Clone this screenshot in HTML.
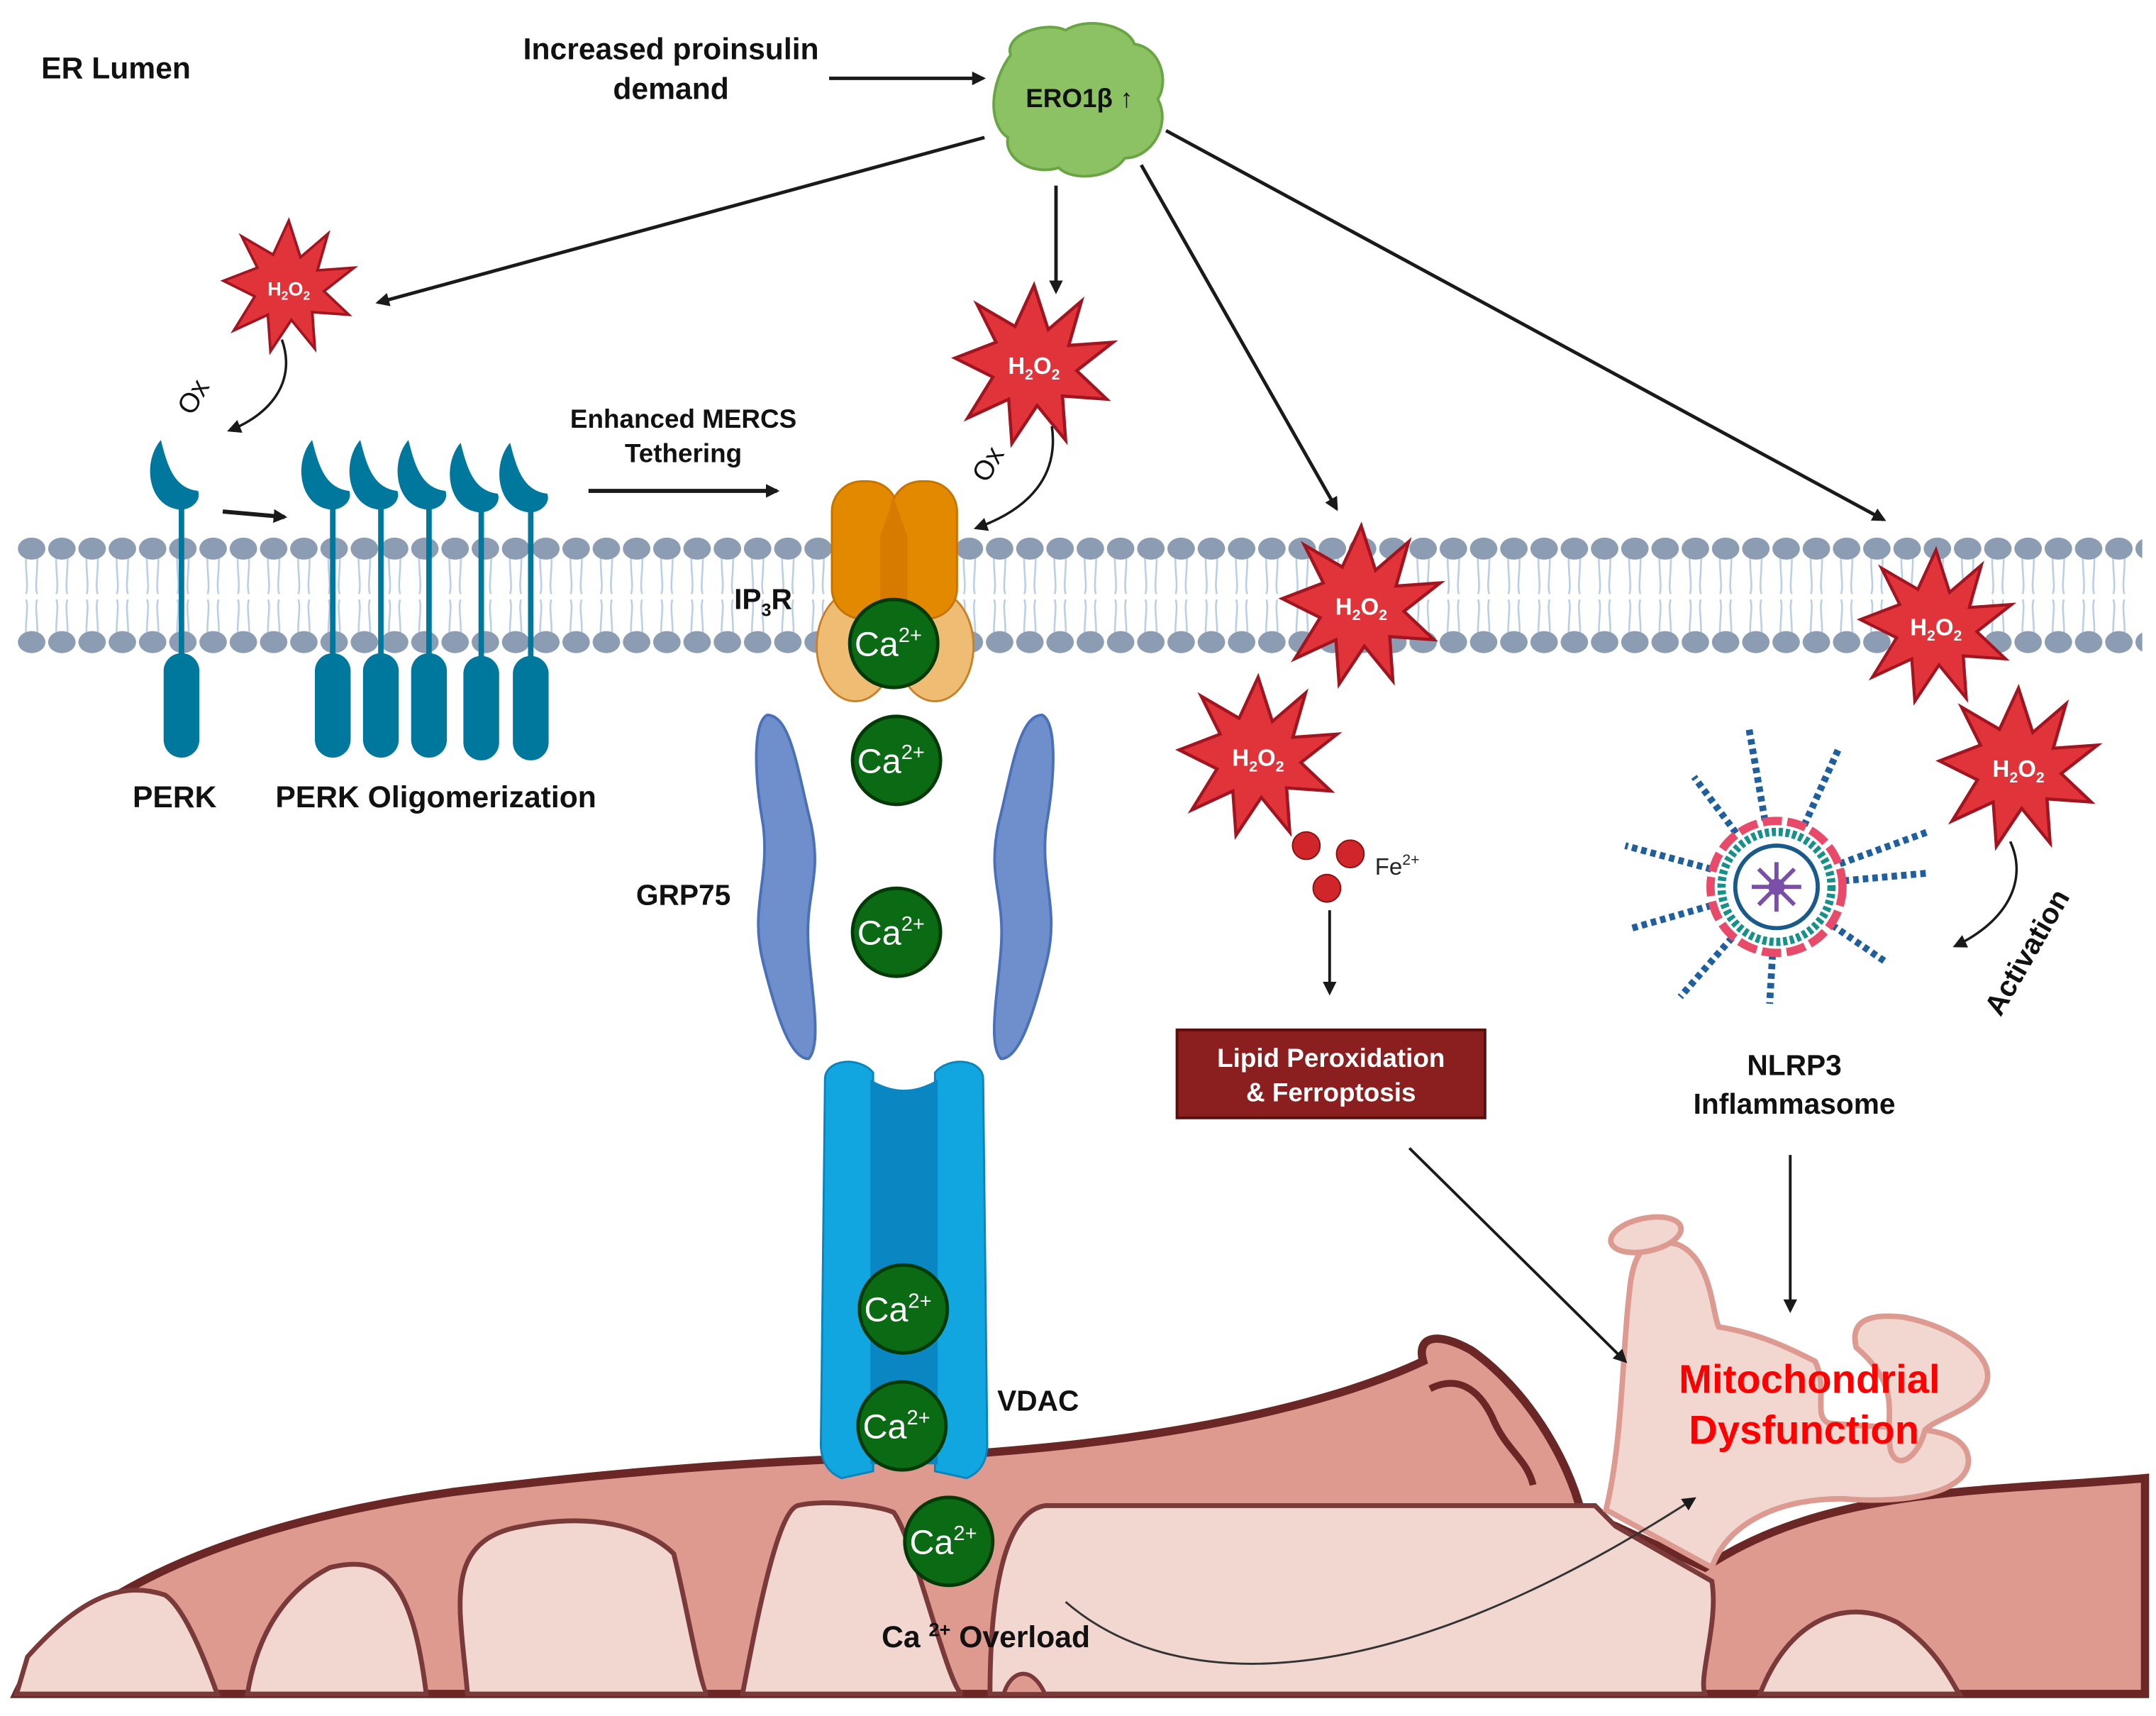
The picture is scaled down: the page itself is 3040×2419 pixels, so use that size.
<!DOCTYPE html>
<html><head><meta charset="utf-8"><style>
html,body{margin:0;padding:0;background:#fff;}
svg{display:block;}
text{font-family:"Liberation Sans",sans-serif;}
</style></head><body>
<svg width="3040" height="2419" viewBox="0 0 1568 1248" preserveAspectRatio="none" xmlns="http://www.w3.org/2000/svg">
<defs>
<marker id="ah" markerWidth="10" markerHeight="10" refX="8" refY="5" orient="auto" markerUnits="userSpaceOnUse"><path d="M0,0 L10,5 L0,10 Z" fill="#1a1a1a"/></marker>
<pattern id="heads" x="12" y="0" width="22" height="1248" patternUnits="userSpaceOnUse">
<path d="M7,400 C6,415 9,425 7,432 M15,400 C16,415 13,425 15,432 M7,466 C6,452 9,442 7,436 M15,466 C16,452 13,442 15,436" stroke="#b8cde6" stroke-width="1.3" fill="none"/>
<ellipse cx="11" cy="399" rx="10" ry="8" fill="#8c9db3"/>
<ellipse cx="11" cy="467" rx="10" ry="8" fill="#8c9db3"/>
</pattern>
<g id="star"><polygon points="0,-50 9,-22 30,-40 22,-12 50,-14 27,4 46,22 18,20 20,48 2,26 -14,50 -16,22 -42,34 -26,8 -50,-4 -24,-14 -36,-38 -12,-24" fill="#e0333a" stroke="#a01520" stroke-width="2"/></g>
<g id="perk" fill="#00789e"><path d="M-15,-25 C-28,-10 -25,20 -5,25 C5,28 15,20 12,12 C-5,10 -10,-5 -15,-25 Z"/><rect x="-2" y="20" width="4" height="120"/><rect x="-13" y="130" width="26" height="76" rx="13"/></g>
</defs>
<rect width="1568" height="1248" fill="#fff"/>

<!-- membrane -->
<rect x="12" y="388" width="1546" height="90" fill="url(#heads)"/>

<!-- mitochondrion -->
<path d="M12,1232 C40,1170 150,1110 330,1085 C450,1070 560,1062 650,1060 C800,1055 950,1030 1035,990 C1030,972 1045,968 1070,982 C1110,1010 1140,1060 1150,1100 L1175,1110 L1240,1140 C1330,1080 1450,1085 1560,1075 L1560,1232 Z" fill="#df9a8f" stroke="#6b2626" stroke-width="6"/>
<path d="M1040,1010 C1060,1000 1075,1010 1085,1030 C1095,1055 1110,1060 1115,1080" fill="none" stroke="#6b2626" stroke-width="5"/>
<path d="M12,1232 L20,1205 C60,1160 90,1150 120,1160 C135,1170 150,1210 158,1232 Z M180,1232 C185,1200 200,1160 240,1140 C280,1130 300,1150 310,1232 Z M340,1232 C335,1170 320,1120 380,1110 C430,1100 470,1110 490,1130 C500,1170 510,1232 515,1232 Z M540,1232 C550,1180 565,1100 580,1095 C600,1090 640,1095 650,1100 C665,1120 690,1230 700,1232 Z M720,1232 C720,1160 730,1100 760,1095 L1160,1095 L1175,1110 L1245,1150 C1250,1180 1235,1220 1240,1232 Z M1280,1232 C1300,1180 1340,1160 1380,1180 C1410,1200 1420,1225 1425,1232 Z" fill="#f2d6d0" stroke="#7a3a3a" stroke-width="3.5"/>
<path d="M730,1232 C735,1215 750,1210 760,1232 Z" fill="#df9a8f" stroke="#7a3a3a" stroke-width="3"/>
<!-- pale extension -->
<path d="M1168,1098 C1180,1050 1180,980 1185,940 C1188,905 1200,900 1220,905 C1245,915 1245,955 1250,965 C1280,970 1300,980 1320,990 C1330,1010 1318,1030 1330,1035 C1380,1040 1420,1035 1430,1055 C1440,1080 1400,1095 1340,1090 C1290,1090 1255,1110 1245,1140 Z" fill="#f2d6d0" stroke="#dc9a90" stroke-width="4"/>
<path d="M1350,980 C1345,960 1360,955 1385,958 C1420,965 1450,985 1445,1005 C1440,1025 1410,1030 1400,1040 C1395,1060 1380,1070 1375,1055 C1370,1030 1385,1010 1350,980 Z" fill="#f2d6d0" stroke="#dc9a90" stroke-width="4"/>
<ellipse cx="1197" cy="898" rx="26" ry="12" transform="rotate(-12 1197 898)" fill="#f2d6d0" stroke="#dc9a90" stroke-width="4"/>
<text x="1316" y="1013" font-size="29" font-weight="bold" fill="#ff0000" text-anchor="middle">Mitochondrial</text>
<text x="1312" y="1050" font-size="29" font-weight="bold" fill="#ff0000" text-anchor="middle">Dysfunction</text>

<!-- texts top -->
<text x="30" y="57" font-size="22" font-weight="bold" fill="#111">ER Lumen</text>
<text x="488" y="43" font-size="22" font-weight="bold" fill="#111" text-anchor="middle">Increased proinsulin</text>
<text x="488" y="72" font-size="22" font-weight="bold" fill="#111" text-anchor="middle">demand</text>
<line x1="603" y1="57" x2="715" y2="57" stroke="#1a1a1a" stroke-width="2.5" marker-end="url(#ah)"/>

<!-- ERO1 blob -->
<path d="M735,40 C730,25 760,15 775,22 C790,12 820,18 825,32 C845,35 850,60 842,72 C852,90 838,115 818,115 C808,130 780,132 770,122 C750,128 730,115 733,100 C718,90 720,60 735,40 Z" fill="#8cc263" stroke="#6aa545" stroke-width="2"/>
<text x="785" y="78" font-size="19" font-weight="bold" fill="#111" text-anchor="middle">ERO1β ↑</text>

<!-- arrows from ERO1 -->
<line x1="716" y1="100" x2="275" y2="220" stroke="#1a1a1a" stroke-width="2.5" marker-end="url(#ah)"/>
<line x1="768" y1="135" x2="768" y2="212" stroke="#1a1a1a" stroke-width="2.5" marker-end="url(#ah)"/>
<line x1="830" y1="120" x2="972" y2="370" stroke="#1a1a1a" stroke-width="2.5" marker-end="url(#ah)"/>
<line x1="848" y1="95" x2="1370" y2="378" stroke="#1a1a1a" stroke-width="2.5" marker-end="url(#ah)"/>

<!-- stars -->
<g transform="translate(210,208) scale(0.95)"><use href="#star"/></g>
<text x="210" y="215" font-size="14" font-weight="bold" fill="#fff" text-anchor="middle">H<tspan font-size="9" dy="3">2</tspan><tspan dy="-3">O</tspan><tspan font-size="9" dy="3">2</tspan></text>
<g transform="translate(752,265) scale(1.15)"><use href="#star"/></g>
<text x="752" y="272" font-size="17" font-weight="bold" fill="#fff" text-anchor="middle">H<tspan font-size="11" dy="4">2</tspan><tspan dy="-4">O</tspan><tspan font-size="11" dy="4">2</tspan></text>
<g transform="translate(990,440) scale(1.15)"><use href="#star"/></g>
<text x="990" y="447" font-size="17" font-weight="bold" fill="#fff" text-anchor="middle">H<tspan font-size="11" dy="4">2</tspan><tspan dy="-4">O</tspan><tspan font-size="11" dy="4">2</tspan></text>
<g transform="translate(915,550) scale(1.15)"><use href="#star"/></g>
<text x="915" y="557" font-size="17" font-weight="bold" fill="#fff" text-anchor="middle">H<tspan font-size="11" dy="4">2</tspan><tspan dy="-4">O</tspan><tspan font-size="11" dy="4">2</tspan></text>
<g transform="translate(1408,455) scale(1.1)"><use href="#star"/></g>
<text x="1408" y="462" font-size="17" font-weight="bold" fill="#fff" text-anchor="middle">H<tspan font-size="11" dy="4">2</tspan><tspan dy="-4">O</tspan><tspan font-size="11" dy="4">2</tspan></text>
<g transform="translate(1468,558) scale(1.15)"><use href="#star"/></g>
<text x="1468" y="565" font-size="17" font-weight="bold" fill="#fff" text-anchor="middle">H<tspan font-size="11" dy="4">2</tspan><tspan dy="-4">O</tspan><tspan font-size="11" dy="4">2</tspan></text>

<!-- ox arrows -->
<path d="M205,247 C215,275 200,300 167,313" stroke="#1a1a1a" stroke-width="1.8" fill="none" marker-end="url(#ah)"/>
<text x="0" y="0" font-size="20" fill="#111" transform="translate(140,303) rotate(-60)">Ox</text>
<path d="M765,310 C770,345 750,370 710,384" stroke="#1a1a1a" stroke-width="1.8" fill="none" marker-end="url(#ah)"/>
<text x="0" y="0" font-size="20" fill="#111" transform="translate(718,352) rotate(-60)">Ox</text>
<path d="M1462,612 C1475,640 1460,670 1422,688" stroke="#1a1a1a" stroke-width="1.8" fill="none" marker-end="url(#ah)"/>
<text x="0" y="0" font-size="21" font-weight="bold" fill="#111" transform="translate(1455,740) rotate(-60)">Activation</text>

<!-- PERK -->
<use href="#perk" transform="translate(132,345)"/>
<use href="#perk" transform="translate(242,345)"/>
<use href="#perk" transform="translate(277,345)"/>
<use href="#perk" transform="translate(312,345)"/>
<use href="#perk" transform="translate(350,347)"/>
<use href="#perk" transform="translate(386,347)"/>
<line x1="162" y1="372" x2="207" y2="376" stroke="#1a1a1a" stroke-width="3" marker-end="url(#ah)"/>
<text x="127" y="587" font-size="22" font-weight="bold" fill="#111" text-anchor="middle">PERK</text>
<text x="317" y="587" font-size="22" font-weight="bold" fill="#111" text-anchor="middle">PERK Oligomerization</text>
<text x="497" y="311" font-size="19" font-weight="bold" fill="#111" text-anchor="middle">Enhanced MERCS</text>
<text x="497" y="336" font-size="19" font-weight="bold" fill="#111" text-anchor="middle">Tethering</text>
<line x1="428" y1="357" x2="565" y2="357" stroke="#1a1a1a" stroke-width="3" marker-end="url(#ah)"/>

<!-- IP3R -->
<ellipse cx="622" cy="470" rx="28" ry="40" fill="#efbc74" stroke="#c9802a" stroke-width="1.5"/>
<ellipse cx="680" cy="470" rx="28" ry="40" fill="#efbc74" stroke="#c9802a" stroke-width="1.5"/>
<rect x="605" y="350" width="48" height="100" rx="22" fill="#e38900" stroke="#c47500" stroke-width="1.5"/>
<rect x="648" y="350" width="48" height="100" rx="22" fill="#e38900" stroke="#c47500" stroke-width="1.5"/>
<path d="M640,390 L650,362 L660,390 L660,445 L640,445 Z" fill="#d77a00"/>
<text x="555" y="443" font-size="21" font-weight="bold" fill="#111" text-anchor="middle">IP<tspan font-size="13" dy="5">3</tspan><tspan dy="-5">R</tspan></text>

<!-- GRP75 -->
<path d="M558,520 C548,525 548,560 555,600 C560,640 545,660 555,700 C565,740 575,770 588,770 C598,760 590,720 588,690 C585,650 598,640 590,600 C580,560 575,520 558,520 Z" fill="#6e8fcc" stroke="#4a70b8" stroke-width="2"/>
<path d="M758,520 C768,525 768,560 761,600 C756,640 771,660 761,700 C751,740 741,770 728,770 C718,760 726,720 728,690 C731,650 718,640 726,600 C736,560 741,520 758,520 Z" fill="#6e8fcc" stroke="#4a70b8" stroke-width="2"/>
<text x="497" y="658" font-size="21" font-weight="bold" fill="#111" text-anchor="middle">GRP75</text>

<!-- VDAC -->
<path d="M600,785 C600,770 625,768 635,780 L635,1070 L612,1075 C600,1070 597,1060 597,1050 Z" fill="#12a6e0" stroke="#0b84bb" stroke-width="1.5"/>
<path d="M715,785 C715,770 690,768 680,780 L680,1070 L703,1075 C715,1070 718,1060 718,1050 Z" fill="#12a6e0" stroke="#0b84bb" stroke-width="1.5"/>
<path d="M633,785 C650,795 665,795 682,785 L682,1065 L633,1065 Z" fill="#0a86c2"/>
<text x="755" y="1026" font-size="21" font-weight="bold" fill="#111" text-anchor="middle">VDAC</text>

<!-- Ca2+ -->
<g font-size="25" fill="#fff" text-anchor="middle">
<circle cx="650" cy="468" r="32" fill="#0b6a14" stroke="#033a08" stroke-width="2.5"/><text x="646" y="477">Ca<tspan font-size="15" dy="-10">2+</tspan></text>
<circle cx="652" cy="553" r="32" fill="#0b6a14" stroke="#033a08" stroke-width="2.5"/><text x="648" y="562">Ca<tspan font-size="15" dy="-10">2+</tspan></text>
<circle cx="652" cy="678" r="32" fill="#0b6a14" stroke="#033a08" stroke-width="2.5"/><text x="648" y="687">Ca<tspan font-size="15" dy="-10">2+</tspan></text>
<circle cx="657" cy="952" r="32" fill="#0b6a14" stroke="#033a08" stroke-width="2.5"/><text x="653" y="961">Ca<tspan font-size="15" dy="-10">2+</tspan></text>
<circle cx="656" cy="1037" r="32" fill="#0b6a14" stroke="#033a08" stroke-width="2.5"/><text x="652" y="1046">Ca<tspan font-size="15" dy="-10">2+</tspan></text>
<circle cx="690" cy="1121" r="32" fill="#0b6a14" stroke="#033a08" stroke-width="2.5"/><text x="686" y="1130">Ca<tspan font-size="15" dy="-10">2+</tspan></text>
</g>
<text x="717" y="1198" font-size="22" font-weight="bold" fill="#111" text-anchor="middle">Ca <tspan font-size="14" dy="-8">2+</tspan><tspan dy="8"> Overload</tspan></text>
<path d="M775,1165 C850,1230 1000,1240 1232,1090" stroke="#333" stroke-width="1.5" fill="none" marker-end="url(#ah)"/>

<!-- Fe -->
<circle cx="950" cy="615" r="10" fill="#d0262b" stroke="#8a1010"/>
<circle cx="982" cy="621" r="10" fill="#d0262b" stroke="#8a1010"/>
<circle cx="965" cy="646" r="10" fill="#d0262b" stroke="#8a1010"/>
<text x="1000" y="636" font-size="17" fill="#222">Fe<tspan font-size="11" dy="-7">2+</tspan></text>
<line x1="967" y1="662" x2="967" y2="722" stroke="#1a1a1a" stroke-width="2" marker-end="url(#ah)"/>
<rect x="856" y="749" width="224" height="64" fill="#8b1e1e" stroke="#5a0e0e" stroke-width="2"/>
<text x="968" y="776" font-size="19" font-weight="bold" fill="#fff" text-anchor="middle">Lipid Peroxidation</text>
<text x="968" y="801" font-size="19" font-weight="bold" fill="#fff" text-anchor="middle">&amp; Ferroptosis</text>
<line x1="1025" y1="835" x2="1182" y2="990" stroke="#1a1a1a" stroke-width="2" marker-end="url(#ah)"/>

<!-- NLRP3 -->
<g transform="translate(1292,645)">
<g stroke="#1f5f9e" stroke-width="5" stroke-dasharray="4 3">
<line x1="0" y1="0" x2="-110" y2="-30"/><line x1="0" y1="0" x2="-105" y2="30"/><line x1="0" y1="0" x2="-70" y2="80"/>
<line x1="0" y1="0" x2="-20" y2="-115"/><line x1="0" y1="0" x2="45" y2="-100"/><line x1="0" y1="0" x2="110" y2="-40"/>
<line x1="0" y1="0" x2="110" y2="-10"/><line x1="0" y1="0" x2="80" y2="55"/><line x1="0" y1="0" x2="-5" y2="85"/>
<line x1="0" y1="0" x2="-60" y2="-80"/>
</g>
<circle r="48" fill="#fff" stroke="#e84a6a" stroke-width="6" stroke-dasharray="14 4"/>
<circle r="40" fill="#fff" stroke="#15908a" stroke-width="6" stroke-dasharray="3 2"/>
<circle r="30" fill="#fff" stroke="#1a5a8a" stroke-width="3"/>
<g stroke="#7a4fa8" stroke-width="3"><line x1="-18" y1="0" x2="18" y2="0"/><line x1="0" y1="-18" x2="0" y2="18"/><line x1="-13" y1="-13" x2="13" y2="13"/><line x1="-13" y1="13" x2="13" y2="-13"/></g>
<circle r="6" fill="#7a4fa8"/>
</g>
<text x="1305" y="782" font-size="21" font-weight="bold" fill="#111" text-anchor="middle">NLRP3</text>
<text x="1305" y="810" font-size="21" font-weight="bold" fill="#111" text-anchor="middle">Inflammasome</text>
<line x1="1302" y1="840" x2="1302" y2="953" stroke="#1a1a1a" stroke-width="2" marker-end="url(#ah)"/>
</svg>
</body></html>
